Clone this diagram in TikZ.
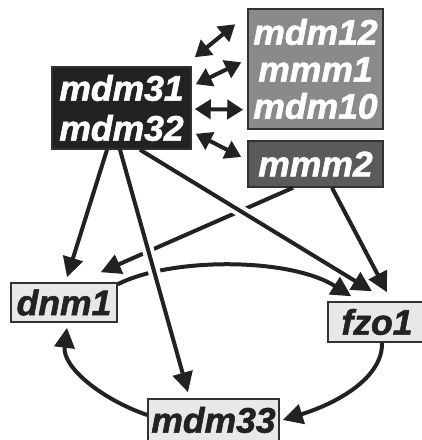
\documentclass[tikz,border=0pt]{standalone}
\usepackage{fontspec}
\setmainfont{Liberation Sans}
\newfontfamily\genefont{Liberation Sans}[BoldItalicFeatures={FakeBold=1.6}]
\usetikzlibrary{arrows.meta}
\definecolor{coreblack}{RGB}{34,34,34}
\definecolor{fusiongray}{RGB}{138,138,138}
\definecolor{mmmgray}{RGB}{90,90,90}
\definecolor{genelight}{RGB}{232,232,232}
\definecolor{edgedark}{RGB}{50,50,50}

\begin{document}
\begin{tikzpicture}[x=1pt,y=-1pt]
    \tikzstyle{gene} = [rectangle, draw=edgedark, line width=1.5pt, inner sep=0pt, align=center, font=\fontsize{35.5}{40}\selectfont\genefont\bfseries\itshape]
    \tikzstyle{dark} = [gene, fill=coreblack, text=white]
    \tikzstyle{light} = [gene, fill=genelight, text=coreblack]
    \tikzstyle{link} = [draw=coreblack, line width=4pt, -{Triangle[length=20pt,width=20pt]}]
    \tikzstyle{bind} = [draw=coreblack, line width=4pt, {Triangle[length=16pt,width=19pt]}-{Triangle[length=16pt,width=19pt]}]
    \tikzstyle{over} = [link, preaction={draw=white, line width=12pt, -, shorten <=25pt, shorten >=50pt}]

    \useasboundingbox (0,0) rectangle (422,440);

    % Genes
    \node[dark, minimum width=139pt, minimum height=82pt] (core) at (121.5,108) {mdm31\\mdm32};
    \node[gene, fill=fusiongray, text=white, minimum width=135pt, minimum height=120pt] (tob) at (315.5,69) {mdm12\\[-3pt]mmm1\\[-3pt]mdm10};
    \node[gene, fill=mmmgray, text=white, minimum width=135pt, minimum height=46pt] (mmm2) at (315.5,164) {mmm2};
    \node[light, minimum width=106pt, minimum height=39pt] (dnm1) at (64,302.5) {dnm1};
    \node[light, minimum width=98pt, minimum height=40pt] (fzo1) at (377,322) {fzo1};
    \node[light, minimum width=131pt, minimum height=42pt] (mdm33) at (213.5,420) {mdm33};

    % Binding partners
    \draw[bind] ([xshift=3pt,yshift=9pt]core.north east) -- ([xshift=-12pt,yshift=-16pt]tob.north west);
    \draw[bind] ([xshift=4pt,yshift=-18pt]core.north east) -- ([xshift=-6pt,yshift=-54pt]tob.north west);
    \draw[bind] ([xshift=3pt,yshift=-1pt]core.east) -- ([xshift=-4pt,yshift=20pt]tob.south west);
    \draw[bind] ([xshift=4pt,yshift=16pt]core.south east) -- ([xshift=-6pt,yshift=7pt]mmm2.west);

    % Lower connections
    \draw[link] ([xshift=-22.5pt]mmm2.south) -- ([xshift=-17pt,yshift=10pt]dnm1.north east);
    \draw[link] ([xshift=16.5pt]mmm2.south) -- ([xshift=10pt,yshift=9pt]fzo1.north);
    \draw[link] ([yshift=-2pt]dnm1.north east) .. controls +(53,-27) and +(-62,-39) .. ([xshift=24pt,yshift=5pt]fzo1.north west);
    \draw[link] ([xshift=5pt]fzo1.south) .. controls +(1,36) and +(52,-16) .. ([xshift=3pt,yshift=0pt]mdm33.east);
    \draw[link] ([yshift=5pt]mdm33.west) .. controls +(-44,-15) and +(-5,40) .. ([xshift=3pt,yshift=-5pt]dnm1.south);
    \draw[link] ([xshift=-14.5pt]core.south) -- ([xshift=3pt,yshift=5pt]dnm1.north);
    \draw[over] ([xshift=18.5pt]core.south) -- ([xshift=-5pt,yshift=10pt]fzo1.north);
    \draw[over] ([xshift=-1.5pt]core.south) -- ([xshift=-25.5pt,yshift=6pt]mdm33.north);
\end{tikzpicture}
\end{document}
